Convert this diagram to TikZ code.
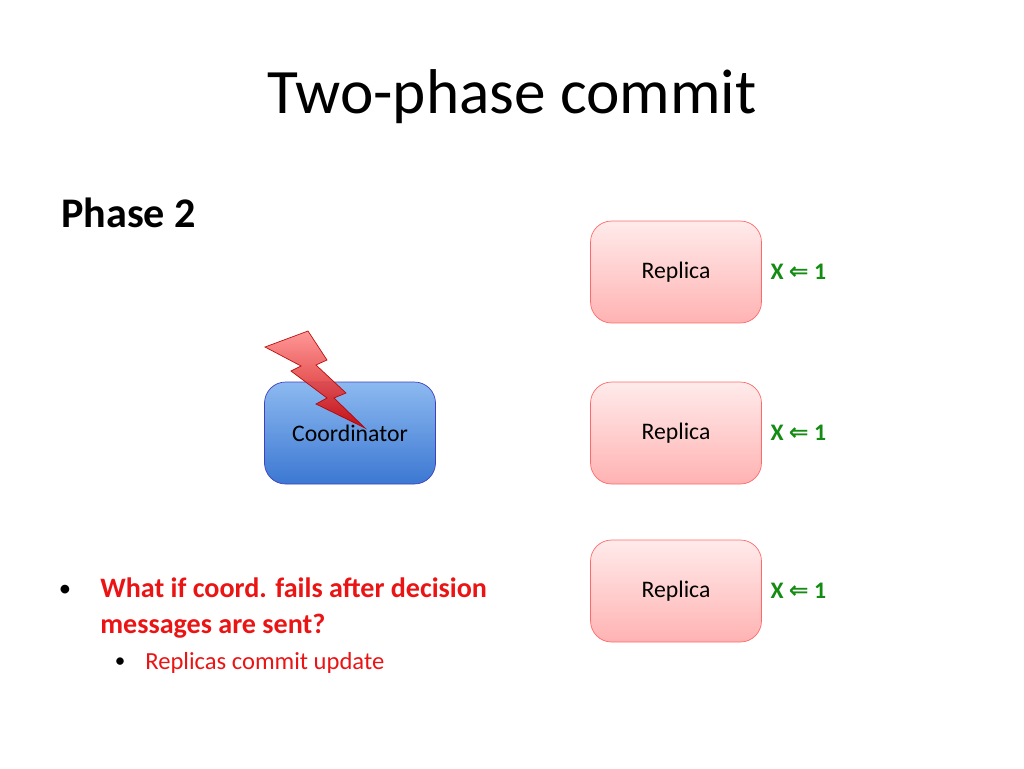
\documentclass[tikz,border=0pt]{standalone}
\usepackage{fontspec}
\setmainfont{Carlito}
\newfontfamily\symfont{DejaVu Sans}
\usetikzlibrary{positioning}
\definecolor{xgreen}{RGB}{20,140,20}
\definecolor{bulletred}{RGB}{235,20,20}
\definecolor{coordtop}{RGB}{140,185,240}
\definecolor{coordbot}{RGB}{60,120,210}
\tikzset{
  replica/.style={draw=red!45!pink, rounded corners=12pt, minimum width=3.42cm, minimum height=2.04cm,
    top color=red!8, bottom color=red!30, font=\fontsize{13.5}{16}\selectfont},
  coord/.style={draw=blue!50!gray, rounded corners=12pt, minimum width=3.42cm, minimum height=2.04cm,
    top color=coordtop, bottom color=coordbot, font=\fontsize{13.5}{16}\selectfont},
  update/.style={text=xgreen, font=\bfseries\fontsize{13.5}{16}\selectfont}
}
\begin{document}
\begin{tikzpicture}[x=0.02cm, y=-0.02cm]
  \useasboundingbox (0,0) rectangle (1024,768);
  \node (title) at (512,97) {\fontsize{36}{40}\selectfont Two-phase commit};
  \node[anchor=west, font=\bfseries\fontsize{24}{28}\selectfont] (phase) at (55,213) {Phase 2};
  % replicas
  \node[replica] (r1) at (676,272) {Replica};
  \node[replica] (r2) at (676,433) {Replica};
  \node[replica] (r3) at (676,591) {Replica};
  \node[update, right=0.05cm of r1] (u1) {X {\symfont\bfseries ⇐} 1};
  \node[update, right=0.05cm of r2] (u2) {X {\symfont\bfseries ⇐} 1};
  \node[update, right=0.05cm of r3] (u3) {X {\symfont\bfseries ⇐} 1};
  \node[coord] (c) at (350,433) {Coordinator};
  % lightning
  \shade[top color=red!45, bottom color=red!80!black, draw=red!70!black, opacity=0.9]
    (265,347) -- (308,331) -- (327,360) -- (316,365) -- (346,393) -- (334,398) -- (365,428)
    -- (316,404) -- (327,398) -- (291,371) -- (301,366) -- cycle;
  % bullets
  \node[anchor=west, inner sep=0pt, text=bulletred, font=\bfseries\fontsize{16}{20}\selectfont, align=left] (b1) at (100,608)
    {What if coord. fails after decision\\messages are sent?};
  \node[font=\fontsize{14}{16}\selectfont] (d1) at (65,591) {\textbullet};
  \node[anchor=west, inner sep=0pt, text=bulletred, font=\fontsize{14}{16}\selectfont] (b2) at (145,663) {Replicas commit update};
  \node[font=\fontsize{12}{16}\selectfont] (d2) at (120,663) {\textbullet};
\end{tikzpicture}
\end{document}
